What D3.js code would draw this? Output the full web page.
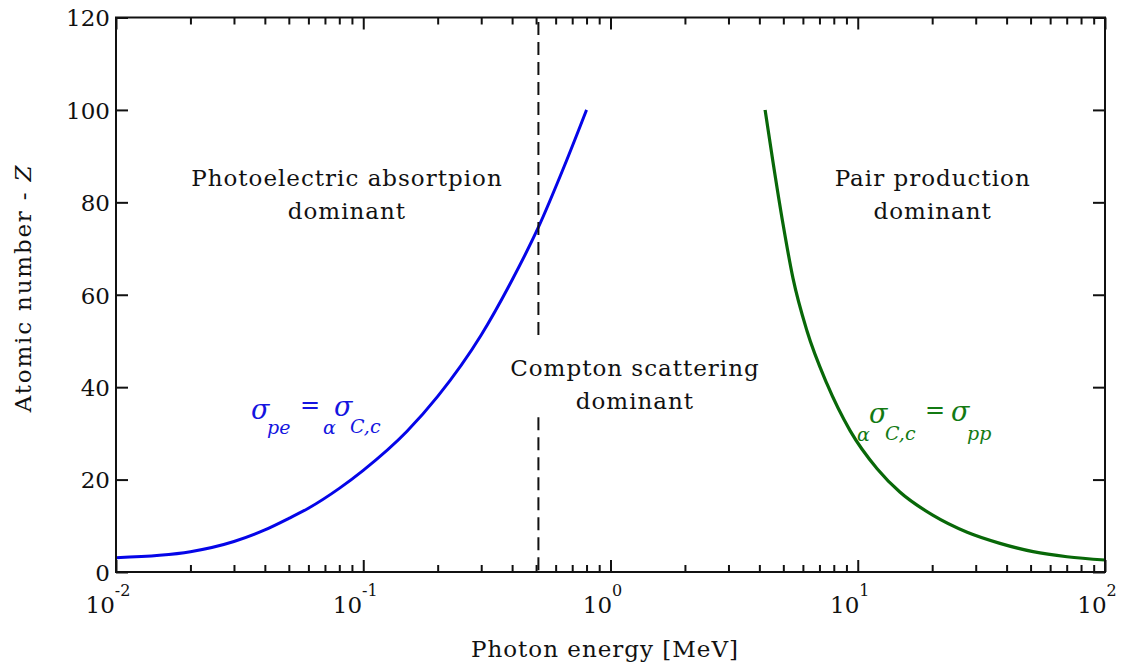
<!DOCTYPE html>
<html>
<head>
<meta charset="utf-8">
<script src="https://cdn.jsdelivr.net/npm/d3@7"></script>
<style>
  html, body { margin: 0; padding: 0; background: #fff; }
  svg { display: block; }
  text { font-family: "DejaVu Serif", "Liberation Serif", serif; fill: #111; }
</style>
</head>
<body>
<svg id="chart" width="1131" height="664"></svg>
<script>
// ---- data ----
const peEnergy = [0.01, 0.015, 0.02, 0.03, 0.04, 0.05, 0.06, 0.08, 0.1, 0.15, 0.2, 0.3, 0.4, 0.51, 0.65, 0.8];
const peZ      = [3.1, 3.6, 4.4, 6.6, 9.1, 11.6, 13.8, 18.1, 22.0, 30.4, 38.0, 51.3, 63.2, 74.5, 87.8, 100];
const ppEnergy = [4.22, 4.54, 4.99, 5.47, 6.23, 7.51, 9.31, 12.0, 14.8, 20.1, 27.7, 37.6, 51.2, 70.2, 100];
const ppZ      = [100, 88.8, 75.2, 63.6, 52.2, 40.7, 30.6, 22.3, 17.3, 12.3, 8.6, 6.2, 4.4, 3.3, 2.6];
const comptonEdge = 0.511;
const xDomain = [0.01, 100];
const yDomain = [0, 120];
const yTicks = [0, 20, 40, 60, 80, 100, 120];
const xMajorTicks = [0.01, 0.1, 1, 10, 100];
const xTickExp = ["-2", "-1", "0", "1", "2"];
const regionLabels = [
  {lines: ["Photoelectric absortpion", "dominant"], x: 0.0859, z: 83.5},
  {lines: ["Compton scattering", "dominant"], x: 1.256, z: 42.5},
  {lines: ["Pair production", "dominant"], x: 20.1, z: 83.5}
];

// ---- layout ----
const svg = d3.select("#chart");
const L = 116, R = 1105, T = 17.5, B = 572;
const x = d3.scaleLog().domain(xDomain).range([L, R]);
const y = d3.scaleLinear().domain(yDomain).range([B, T]);

// ---- curves ----
const line = d3.line().curve(d3.curveMonotoneX);
svg.append("path")
  .attr("d", line(peEnergy.map((e, i) => [x(e), y(peZ[i])])))
  .attr("fill", "none").attr("stroke", "#0505e8").attr("stroke-width", 3);
svg.append("path")
  .attr("d", line(ppEnergy.map((e, i) => [x(e), y(ppZ[i])])))
  .attr("fill", "none").attr("stroke", "#086808").attr("stroke-width", 3.2);

// ---- dashed line (interrupted by the Compton label) ----
const dashG = svg.append("g").attr("stroke", "#111").attr("stroke-width", 2).attr("stroke-dasharray", "13,7");
dashG.append("line").attr("x1", x(comptonEdge)).attr("x2", x(comptonEdge))
  .attr("y1", y(119)).attr("y2", y(50.5));
dashG.append("line").attr("x1", x(comptonEdge)).attr("x2", x(comptonEdge))
  .attr("y1", y(33.5)).attr("y2", y(0));

// ---- frame ----
svg.append("rect").attr("x", L).attr("y", T).attr("width", R - L).attr("height", B - T)
  .attr("fill", "none").attr("stroke", "#111").attr("stroke-width", 2);

// ---- axes ----
const minorTicks = x.ticks().filter(t => !xMajorTicks.some(m => Math.abs(m - t) / m < 1e-6));
function styleTicks(g) {
  g.select(".domain").remove();
  g.selectAll("line").attr("stroke", "#111").attr("stroke-width", 2);
}
svg.append("g").attr("transform", `translate(0,${B})`)
  .call(d3.axisBottom(x).tickValues(minorTicks).tickSize(-7).tickFormat("")).call(styleTicks);
svg.append("g").attr("transform", `translate(0,${B})`)
  .call(d3.axisBottom(x).tickValues(xMajorTicks).tickSize(-12).tickFormat("")).call(styleTicks);
svg.append("g").attr("transform", `translate(0,${T})`)
  .call(d3.axisTop(x).tickValues(minorTicks).tickSize(-7).tickFormat("")).call(styleTicks);
svg.append("g").attr("transform", `translate(0,${T})`)
  .call(d3.axisTop(x).tickValues(xMajorTicks).tickSize(-12).tickFormat("")).call(styleTicks);

svg.append("g").attr("transform", `translate(${L},0)`)
  .call(d3.axisLeft(y).tickValues(yTicks).tickSize(-12).tickPadding(6).tickFormat(d3.format("d")))
  .call(g => {
    styleTicks(g);
    g.selectAll("text").attr("font-size", 23).attr("font-family", "DejaVu Serif")
      .attr("fill", "#111").attr("dy", "0.36em");
  });
svg.append("g").attr("transform", `translate(${R},0)`)
  .call(d3.axisRight(y).tickValues(yTicks).tickSize(-12).tickFormat("")).call(styleTicks);

// x tick labels: 10^n
const xl = svg.append("g");
xMajorTicks.forEach((t, i) => {
  const tx = xl.append("text").attr("x", x(t) - 8).attr("y", 613)
    .attr("text-anchor", "middle").attr("font-size", 23);
  tx.append("tspan").text("10");
  tx.append("tspan").attr("dy", -17).attr("font-size", 16).text(xTickExp[i]);
});

// axis titles
svg.append("text").attr("x", 605).attr("y", 657).attr("text-anchor", "middle")
  .attr("font-size", 23).attr("letter-spacing", 1).text("Photon energy [MeV]");
const yt = svg.append("text").attr("transform", "translate(31,288) rotate(-90)")
  .attr("text-anchor", "middle").attr("font-size", 23).attr("letter-spacing", 1.8);
yt.append("tspan").text("Atomic number - ");
yt.append("tspan").attr("font-style", "italic").text("Z");

// region labels
regionLabels.forEach(r => {
  const t = svg.append("text").attr("text-anchor", "middle").attr("font-size", 23).attr("letter-spacing", 1);
  r.lines.forEach((s, i) => {
    t.append("tspan").attr("x", x(r.x)).attr("y", y(r.z) + i * 33).text(s);
  });
});

// formulas
function formula(parts, color) {
  const t = svg.append("text").attr("font-family", "Liberation Serif");
  parts.forEach(p => {
    t.append("tspan").attr("x", p.x).attr("y", p.y).attr("font-size", p.s)
      .attr("fill", color)
      .attr("font-style", p.n ? "normal" : "italic").text(p.t);
  });
}
formula([
  {t: "σ", x: 251, y: 419, s: 27},
  {t: "pe", x: 267, y: 434, s: 19},
  {t: "=", x: 300, y: 413, s: 24, n: true},
  {t: "α", x: 323, y: 434, s: 19},
  {t: "σ", x: 334, y: 416, s: 27},
  {t: "C,c", x: 350, y: 433, s: 19}
], "#1515e0");
formula([
  {t: "α", x: 857, y: 441, s: 19},
  {t: "σ", x: 869, y: 423, s: 27},
  {t: "C,c", x: 885, y: 440, s: 19},
  {t: "=", x: 925, y: 418, s: 24, n: true},
  {t: "σ", x: 951, y: 421, s: 27},
  {t: "pp", x: 967, y: 440, s: 19}
], "#137a13");
</script>
</body>
</html>
